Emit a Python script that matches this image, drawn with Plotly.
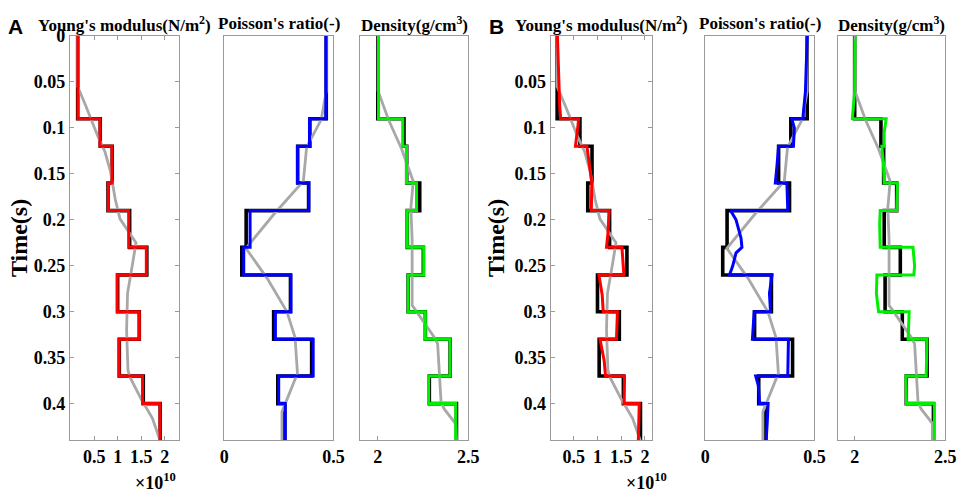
import plotly.graph_objects as go

# layer tops of the true (blocky) model, time in s
layer_top = [0, 0.09, 0.12, 0.16, 0.19, 0.23, 0.26, 0.30, 0.33, 0.37, 0.40]
t_end = 0.44

# true model (black)
young_true = [0.15, 0.63, 0.885, 0.795, 1.255, 1.62, 1.00, 1.46, 1.035, 1.545, 1.905]  # x1e10
poisson_true = [0.467, 0.392, 0.336, 0.386, 0.100, 0.080, 0.303, 0.226, 0.400, 0.245, 0.277]
density_true = [2.0, 2.145, 2.16, 2.232, 2.163, 2.252, 2.168, 2.263, 2.40, 2.285, 2.435]

# initial model (gray)
young_init_t = [0, 0.055, 0.077, 0.09, 0.108, 0.126, 0.147, 0.16, 0.178, 0.199, 0.212,
                0.225, 0.25, 0.28, 0.32, 0.364, 0.372, 0.395, 0.416, 0.44]
young_init = [0.15, 0.15, 0.33, 0.43, 0.57, 0.73, 0.845, 0.89, 0.95, 1.05, 1.22,
              1.39, 1.31, 1.21, 1.19, 1.22, 1.27, 1.50, 1.74, 1.90]
poisson_init_t = [0, 0.06, 0.091, 0.121, 0.158, 0.194, 0.231, 0.264, 0.300, 0.328,
                  0.367, 0.395, 0.409, 0.44]
poisson_init = [0.467, 0.467, 0.444, 0.377, 0.362, 0.227, 0.099, 0.197, 0.287, 0.324,
                0.335, 0.287, 0.264, 0.264]
density_init_t = [0, 0.06, 0.0914, 0.123, 0.158, 0.187, 0.222, 0.293, 0.298, 0.328,
                  0.335, 0.399, 0.406, 0.422, 0.44]
density_init = [2.002, 2.002, 2.06, 2.132, 2.196, 2.183, 2.19, 2.19, 2.208, 2.313,
                2.331, 2.35, 2.368, 2.431, 2.435]

# inversion result, case A (blocky)
young_inv_a = [0.155, 0.625, 0.88, 0.80, 1.235, 1.61, 0.99, 1.46, 1.03, 1.53, 1.90]
poisson_inv_a = [0.465, 0.390, 0.335, 0.387, 0.118, 0.089, 0.305, 0.234, 0.407, 0.249, 0.279]
density_inv_a = [2.004, 2.138, 2.159, 2.214, 2.163, 2.254, 2.168, 2.263, 2.40, 2.281, 2.431]

# inversion result, case B (traced curves)
young_inv_b_t = [0, 0.05, 0.077, 0.09, 0.09, 0.097, 0.12, 0.12, 0.144, 0.16, 0.19, 0.19,
                 0.215, 0.23, 0.23, 0.26, 0.26, 0.282, 0.30, 0.30, 0.33, 0.33, 0.353,
                 0.37, 0.37, 0.40, 0.40, 0.44]
young_inv_b = [0.156, 0.177, 0.204, 0.225, 0.604, 0.59, 0.535, 0.777, 0.846, 0.88, 0.87,
               1.245, 1.22, 1.19, 1.515, 1.556, 1.03, 1.10, 1.12, 1.42, 1.40, 1.053,
               1.14, 1.17, 1.57, 1.56, 1.88, 1.86]
poisson_inv_b_t = [0, 0.06, 0.085, 0.09, 0.09, 0.10, 0.12, 0.12, 0.14, 0.16, 0.16, 0.19,
                   0.19, 0.20, 0.22, 0.23, 0.236, 0.25, 0.26, 0.26, 0.28, 0.30, 0.30,
                   0.33, 0.33, 0.37, 0.37, 0.38, 0.40, 0.40, 0.42, 0.44]
poisson_inv_b = [0.467, 0.459, 0.449, 0.449, 0.396, 0.408, 0.404, 0.336, 0.329, 0.321,
                 0.374, 0.378, 0.116, 0.141, 0.164, 0.168, 0.141, 0.126, 0.111, 0.306,
                 0.294, 0.299, 0.224, 0.216, 0.381, 0.378, 0.231, 0.243, 0.249, 0.288,
                 0.284, 0.279]
density_inv_b_t = [0, 0.06, 0.09, 0.09, 0.105, 0.12, 0.12, 0.14, 0.16, 0.16, 0.19, 0.19,
                   0.205, 0.23, 0.23, 0.25, 0.26, 0.26, 0.28, 0.30, 0.30, 0.33, 0.33,
                   0.37, 0.37, 0.40, 0.40, 0.44]
density_inv_b = [2.002, 2.0, 1.987, 2.174, 2.163, 2.163, 2.15, 2.159, 2.163, 2.236, 2.232,
                 2.141, 2.138, 2.141, 2.322, 2.331, 2.327, 2.123, 2.12, 2.132, 2.301,
                 2.295, 2.399, 2.395, 2.283, 2.286, 2.44, 2.44]

W, H = 969, 493
SERIF = "Liberation Serif"
AXC = "#9a9a9a"
GRAY = "#a8a8a8"
y_top, y_bot = 26.5, 439.3

# (box left px, box right px, x range, tickvals, ticktext)
panels = [
    (66, 177, [-0.015, 2.306], [0.5, 1, 1.5, 2], ["0.5", "1", "1.5", "2"]),
    (223, 334, [0, 0.5], [0, 0.5], ["0", "0.5"]),
    (361, 471, [1.902, 2.5], [2, 2.5], ["2", "2.5"]),
    (554.7, 658, [0.011, 2.151], [0.5, 1, 1.5, 2], ["0.5", "1", "1.5", "2"]),
    (712, 823, [0, 0.5], [0, 0.5], ["0", "0.5"]),
    (847, 956, [1.908, 2.5], [2, 2.5], ["2", "2.5"]),
]
titles = ["Young's modulus(N/m<sup>2</sup>)", "Poisson's ratio(-)", "Density(g/cm<sup>3</sup>)"] * 2
colors = ["#ff0000", "#0000ff", "#00ee00"] * 2

true_vals = [young_true, poisson_true, density_true]
init_curves = [(young_init_t, young_init), (poisson_init_t, poisson_init),
               (density_init_t, density_init)]
inv_a = [young_inv_a, poisson_inv_a, density_inv_a]
inv_b = [(young_inv_b_t, young_inv_b), (poisson_inv_b_t, poisson_inv_b),
         (density_inv_b_t, density_inv_b)]

fig = go.Figure()
step_t = layer_top + [t_end]

for i in range(6):
    k = i % 3
    xa = "x" if i == 0 else "x%d" % (i + 1)
    ya = "y" if i == 0 else "y%d" % (i + 1)
    tv = true_vals[k]
    fig.add_trace(go.Scatter(x=tv + [tv[-1]], y=step_t, mode="lines", line_shape="vh",
                             line=dict(color="black", width=3.6), xaxis=xa, yaxis=ya))
    fig.add_trace(go.Scatter(x=init_curves[k][1], y=init_curves[k][0], mode="lines",
                             line=dict(color=GRAY, width=2.8), xaxis=xa, yaxis=ya))
    if i < 3:
        va = inv_a[k]
        fig.add_trace(go.Scatter(x=va + [va[-1]], y=step_t, mode="lines", line_shape="vh",
                                 line=dict(color=colors[i], width=3), xaxis=xa, yaxis=ya))
    else:
        fig.add_trace(go.Scatter(x=inv_b[k][1], y=inv_b[k][0], mode="lines",
                                 line=dict(color=colors[i], width=3), xaxis=xa, yaxis=ya))

layout = dict(width=W, height=H, margin=dict(l=0, r=0, t=0, b=0),
              paper_bgcolor="white", plot_bgcolor="white", showlegend=False)
ydom = [1 - y_bot / H, 1 - y_top / H]
annotations = []
for i, (x0, x1, xr, tvals, ttext) in enumerate(panels):
    suffix = "" if i == 0 else str(i + 1)
    k = i % 3
    layout["xaxis" + suffix] = dict(
        domain=[x0 / W, x1 / W], anchor="y" + suffix, range=xr,
        tickvals=tvals, ticktext=ttext, ticks="inside", ticklen=4, tickcolor=AXC,
        showline=True, linecolor=AXC, linewidth=1, mirror="ticks", showgrid=False,
        zeroline=False, tickfont=dict(family=SERIF, size=18, color="black", weight="bold"),
    )
    ycfg = dict(domain=ydom, anchor="x" + suffix, range=[0.44, 0], showline=True,
                linecolor=AXC, linewidth=1, mirror=True, showgrid=False, zeroline=False)
    if k == 0:
        if i == 0:
            yv = [0, 0.05, 0.1, 0.15, 0.2, 0.25, 0.3, 0.35, 0.4]
        else:
            yv = [0.05, 0.1, 0.15, 0.2, 0.25, 0.3, 0.35, 0.4]
        ycfg.update(tickvals=yv, ticktext=["%g" % v for v in yv], ticks="inside",
                    ticklen=4, tickcolor=AXC, mirror="ticks",
                    tickfont=dict(family=SERIF, size=18, color="black", weight="bold"))
    else:
        ycfg.update(showticklabels=False, ticks="")
    layout["yaxis" + suffix] = ycfg
    annotations.append(dict(x=(x0 + x1) / 2 / W, y=1 - 14 / H, xref="paper", yref="paper",
                            text=titles[i], showarrow=False, xanchor="center",
                            yanchor="middle",
                            font=dict(family=SERIF, size=17, color="black", weight="bold")))

# panel letters, y titles and exponent labels
for letter, lx, tx, ex in [("A", 11, 15, 153), ("B", 500, 500, 652)]:
    annotations.append(dict(x=lx / W, y=1 - 17 / H, xref="paper", yref="paper", text=letter,
                            showarrow=False, xanchor="center", yanchor="middle",
                            font=dict(family="Liberation Sans", size=21, color="black",
                                      weight="bold")))
    annotations.append(dict(x=tx / W, y=1 - 233 / H, xref="paper", yref="paper",
                            text="Time(s)", textangle=-90, showarrow=False,
                            xanchor="center", yanchor="middle",
                            font=dict(family=SERIF, size=24, color="black", weight="bold")))
    annotations.append(dict(x=ex / W, y=1 - 481 / H, xref="paper", yref="paper",
                            text="\u00d710<sup>10</sup>", showarrow=False,
                            xanchor="center", yanchor="middle",
                            font=dict(family=SERIF, size=18, color="black", weight="bold")))

layout["annotations"] = annotations
fig.update_layout(**layout)
fig.write_html("out.html", config={"displayModeBar": False},
               post_script="document.body.style.margin='0';"
                           "document.body.style.overflow='hidden';")
